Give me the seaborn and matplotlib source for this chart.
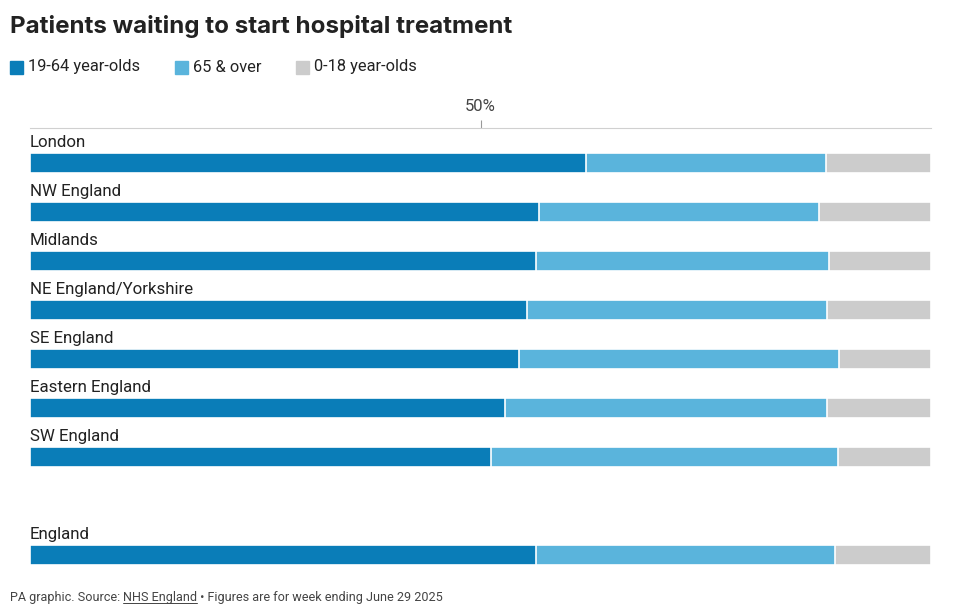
import matplotlib
matplotlib.use("Agg")
import matplotlib.pyplot as plt
from matplotlib.patches import Rectangle
import seaborn as sns
import pandas as pd

# values, percent of patients waiting
regions = ["London", "NW England", "Midlands", "NE England/Yorkshire", "SE England",
           "Eastern England", "SW England", "England"]
adults = [61.7, 56.5, 56.2, 55.2, 54.3, 52.7, 51.2, 56.2]
over65 = [26.6, 31.1, 32.5, 33.3, 35.5, 35.8, 38.5, 33.1]
children = [11.7, 12.4, 11.3, 11.5, 10.2, 11.5, 10.3, 10.7]
row_pos = [0, 1, 2, 3, 4, 5, 6, 8]  # gap before the England total

legend_labels = ["19-64 year-olds", "65 & over", "0-18 year-olds"]
DARK = "#0a7db8"
LIGHT = "#5ab4dc"
GREY = "#cccccc"
TXT = "#222222"
BODY = ["Roboto", "DejaVu Sans"]

sns.set_theme(style="white")
plt.rcParams["font.family"] = ["Inter", "DejaVu Sans"]

df = pd.DataFrame({"region": regions, "pos": row_pos, "adults": adults,
                   "over65": over65, "children": children})
df["to_65"] = df.adults + df.over65
df["total"] = df.to_65 + df.children

W, H = 960, 611
fig = plt.figure(figsize=(W / 100, H / 100), dpi=100)
ax = fig.add_axes([30 / W, 1 - 575 / H, 901 / W, (575 - 128) / H])

# stacked bars drawn as overlapping cumulative bars
for col, color in [("total", GREY), ("to_65", LIGHT), ("adults", DARK)]:
    sns.barplot(data=df, x=col, y="pos", orient="y", native_scale=True, color=color,
                saturation=1, width=0.41, edgecolor="white", linewidth=1.2,
                errorbar=None, ax=ax)

ax.set_xlim(0, 100)
ax.set_ylim(8 + 20 / 49, -35 / 49)
ax.set_xlabel("")
ax.set_ylabel("")
ax.set_yticks([])
ax.xaxis.tick_top()
ax.set_xticks([50])
ax.set_xticklabels(["50%"], family=BODY)
ax.tick_params(axis="x", colors="#999999", labelcolor="#444444", labelsize=12,
               length=6, width=0.8, pad=4, top=True, bottom=False)
for side in ["left", "right", "bottom"]:
    ax.spines[side].set_visible(False)
ax.spines["top"].set_color("#d0d0d0")
ax.spines["top"].set_linewidth(0.8)

for name, p in zip(regions, row_pos):
    ax.text(0, p - 0.41, name, ha="left", va="center", fontsize=12.2,
            color=TXT, family=BODY)

fig.text(10 / W, 1 - 26 / H, "Patients waiting to start hospital treatment",
         fontsize=17.4, weight="bold", va="center", ha="left", color=TXT)

for lab, color, x0 in zip(legend_labels, [DARK, LIGHT, GREY], [10, 175, 296]):
    fig.patches.append(Rectangle((x0 / W, 1 - 74 / H), 13 / W, 13 / H,
                                 transform=fig.transFigure, color=color))
    fig.text((x0 + 18) / W, 1 - 67 / H, lab, fontsize=11.8, va="center",
             ha="left", color=TXT, family=BODY)

# footer with underlined source
fy = 1 - 597 / H
renderer = fig.canvas.get_renderer()
pieces = ["PA graphic. Source: ", "NHS England", " \u2022 Figures are for week ending June 29 2025"]
x = 10 / W
for i, s in enumerate(pieces):
    t = fig.text(x, fy, s, fontsize=9.1, va="center", ha="left", color="#444444",
                 family=BODY)
    bb = t.get_window_extent(renderer).transformed(fig.transFigure.inverted())
    if i == 1:
        fig.lines.append(plt.Line2D([bb.x0, bb.x1], [bb.y0 + 0.001, bb.y0 + 0.001],
                                    transform=fig.transFigure, color="#444444", lw=0.7))
    x = bb.x1

fig.savefig("out.png", dpi=100)
